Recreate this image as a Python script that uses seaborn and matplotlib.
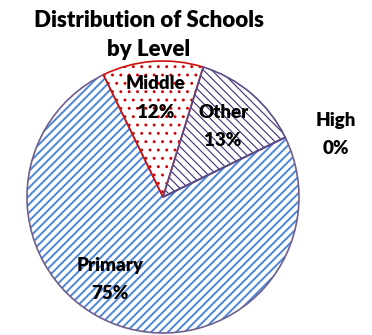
import numpy as np
import matplotlib
matplotlib.use("Agg")
import matplotlib.pyplot as plt
import seaborn as sns

sns.set_style("white")
plt.rcParams['font.family'] = ['Lato', 'DejaVu Sans']

# data
levels = ["Primary", "Middle", "Other", "High"]
shares = [75, 12, 13, 0]

fill_col = ["#4D86D8", "#D00000", "#3F2D7A", "#3F2D7A"]
edge_col = ["#6E5F8E", "#D01010", "#5A4A88", "#5A4A88"]
hatches = ["////", "..", "\\\\\\\\", ""]
hatch_lw = [1.4, 0.9, 0.8, 0.8]
label_dist = [0.72, 0.73, 0.68, 1.35]
label_shift = [-14, 0, 0, -6]   # degrees, nudges label off the mid angle

fig = plt.figure(figsize=(3.72, 3.35), dpi=100)
ax = fig.add_axes([27 / 372, 2 / 335, 272 / 372, 272 / 335])

wedges, _ = ax.pie(shares, startangle=26, counterclock=False, radius=1,
                   colors=["white"] * 4)
for w, c, h, hl in zip(wedges, fill_col, hatches, hatch_lw):
    w.set_hatch(h)
    w.set_edgecolor(c)
    w.set_linewidth(0)
    w.set_hatch_linewidth(hl)

# outlines
outl, _ = ax.pie(shares, startangle=26, counterclock=False, radius=1,
                 wedgeprops=dict(fill=False, linewidth=1.2))
for w, c in zip(outl, edge_col):
    w.set_edgecolor(c)

# labels
for w, lev, s, d, sh in zip(wedges, levels, shares, label_dist, label_shift):
    ang = np.deg2rad((w.theta1 + w.theta2) / 2 + sh)
    ax.text(d * np.cos(ang), d * np.sin(ang), f"{lev}\n{s}%",
            ha="center", va="center", fontsize=13.5, fontweight="heavy",
            color="black", linespacing=1.8, clip_on=False)

ax.set_xlim(-1, 1)
ax.set_ylim(-1, 1)
ax.set_aspect("equal")
ax.axis("off")

fig.text(149 / 372, 1 - 35 / 335, "Distribution of Schools\nby Level",
         ha="center", va="center", fontsize=16, fontweight="heavy",
         color="black", linespacing=1.45)

fig.savefig("out.png", dpi=100)
